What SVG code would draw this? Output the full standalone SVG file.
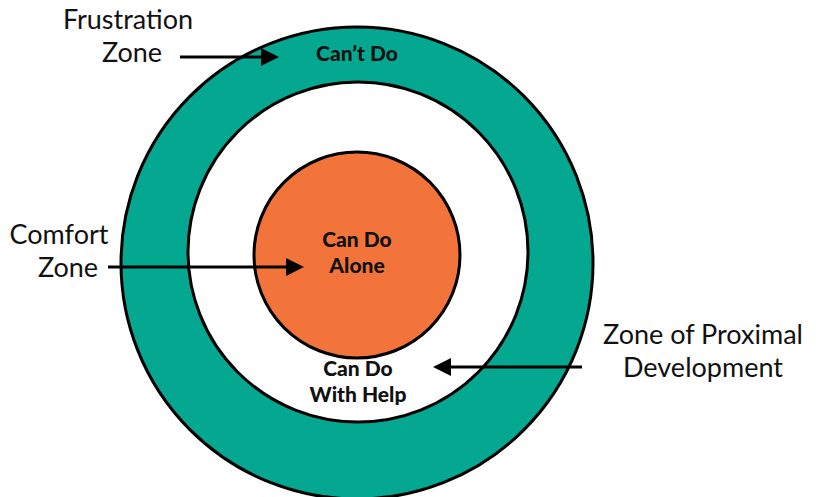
<svg xmlns="http://www.w3.org/2000/svg" width="820" height="497" viewBox="0 0 820 497">
<style>
.lbl{font-family:"Lato","Liberation Sans",sans-serif;font-size:27px;fill:#111;text-anchor:middle}
.in{font-family:"Lato","Liberation Sans",sans-serif;font-size:21px;font-weight:900;fill:#111;text-anchor:middle}
.ar{stroke:#000;stroke-width:3;fill:none;marker-end:url(#ah)}
</style>
<defs><marker id="ah" markerWidth="7" markerHeight="7" refX="1" refY="3" orient="auto" markerUnits="strokeWidth"><path d="M0,0 L6,3 L0,6 z" fill="#000"/></marker></defs>
<g id="outer"><circle cx="357" cy="263" r="236" fill="#04a890" stroke="#000" stroke-width="3"/><text class="in" x="357" y="61">Can’t Do</text></g>
<g id="zpd"><circle cx="358" cy="252" r="170" fill="#fff" stroke="#000" stroke-width="3"/><text class="in" x="358" y="376">Can Do</text><text class="in" x="358" y="402">With Help</text></g>
<g id="comfort"><circle cx="357" cy="255" r="103" fill="#f2743a" stroke="#000" stroke-width="3"/><text class="in" x="357" y="247">Can Do</text><text class="in" x="357" y="273">Alone</text></g>
<g id="labels">
<text class="lbl" x="128" y="29">Frustration</text><text class="lbl" x="132" y="62">Zone</text>
<text class="lbl" x="59" y="244">Comfort</text><text class="lbl" x="68" y="277">Zone</text>
<text class="lbl" x="703" y="344">Zone of Proximal</text><text class="lbl" x="703" y="377">Development</text>
</g>
<g id="connectors">
<line class="ar" x1="180" y1="57" x2="264" y2="57"/>
<line class="ar" x1="108" y1="267" x2="289" y2="267"/>
<line class="ar" x1="582" y1="367" x2="448" y2="367"/>
</g>
</svg>
